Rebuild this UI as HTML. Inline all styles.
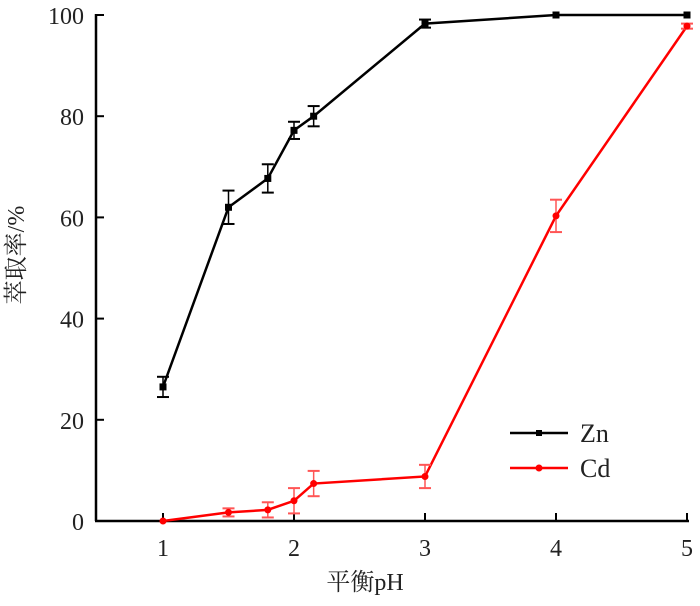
<!DOCTYPE html>
<html><head><meta charset="utf-8"><style>
html,body{margin:0;padding:0;background:#fff}
svg text{font-family:"Liberation Serif","Noto Serif CJK SC",serif}
</style></head><body>
<svg width="700" height="601" viewBox="0 0 700 601">
<g id="axes"></g>
<g id="series"></g>
<text x="365" y="590" font-size="24" text-anchor="middle" fill="#222">平衡pH</text>
<text transform="translate(24,255) rotate(-90)" font-size="24" text-anchor="middle" fill="#222">萃取率/%</text>
<g>
<g>
<line x1="510" y1="433" x2="568" y2="433" stroke="#000" stroke-width="2.5"/>
<rect x="536" y="430" width="6" height="6" fill="#000"/>
<text x="580" y="442" font-size="26" fill="#222">Zn</text>
</g>
<g>
<line x1="510" y1="468" x2="568" y2="468" stroke="#f00" stroke-width="2.5"/>
<circle cx="539" cy="468" r="3.5" fill="#f00"/>
<text x="580" y="477" font-size="26" fill="#222">Cd</text>
</g>
</g>
</svg>
<script>
const xTicks=[1,2,3,4,5];
const yTicks=[0,20,40,60,80,100];
const phZn=[1,1.5,1.8,2,2.15,3,4,5];
const zn=[26.5,62,67.7,77.2,80,98.3,100,100];
const znErr=[2,3.3,2.8,1.7,2,0.8,0,0];
const phCd=[1,1.5,1.8,2,2.15,3,4,5];
const cd=[0,1.7,2.2,4,7.4,8.8,60.3,97.8];
const cdErr=[0,0.8,1.5,2.5,2.5,2.3,3.2,0.5];
const NS="http://www.w3.org/2000/svg";
const X=v=>163+(v-1)*131;
const Y=v=>521-v*5.06;
function mk(t,a,p){const e=document.createElementNS(NS,t);for(const k in a)e.setAttribute(k,a[k]);p.appendChild(e);return e;}
const ax=document.getElementById('axes');
const l1=mk('line',{x1:96,y1:Y(0),x2:96,y2:14,stroke:'#000','stroke-width':2.5},ax);


const l2=mk('line',{x1:95,y1:Y(0),x2:689,y2:Y(0),stroke:'#000','stroke-width':2.5},ax);


xTicks.forEach(v=>{
 mk('line',{x1:X(v),y1:Y(0),x2:X(v),y2:Y(0)-8,stroke:'#000','stroke-width':2},ax);
 const t=mk('text',{x:X(v),y:556,'font-size':24,'text-anchor':'middle',fill:'#222'},ax);t.textContent=v;
 
 
});
yTicks.forEach(v=>{
 mk('line',{x1:96,y1:Y(v),x2:104,y2:Y(v),stroke:'#000','stroke-width':2},ax);
 const t=mk('text',{x:84,y:Y(v)+9,'font-size':24,'text-anchor':'end',fill:'#222'},ax);t.textContent=v;
 
 
});
const sg=document.getElementById('series');
function draw(xs,ys,es,color,name,sq){
 const g=mk('g',{},sg);
 
 
 mk('polyline',{points:xs.map((x,i)=>X(x)+','+Y(ys[i])).join(' '),fill:'none',stroke:color,'stroke-width':2.5},g);
 xs.forEach((x,i)=>{
  if(es[i]>0){
   const c=sq?'#000':'#f55';
   mk('line',{x1:X(x),y1:Y(ys[i]-es[i]),x2:X(x),y2:Y(ys[i]+es[i]),stroke:c,'stroke-width':1.5},g);
   mk('line',{x1:X(x)-6,y1:Y(ys[i]-es[i]),x2:X(x)+6,y2:Y(ys[i]-es[i]),stroke:c,'stroke-width':2},g);
   mk('line',{x1:X(x)-6,y1:Y(ys[i]+es[i]),x2:X(x)+6,y2:Y(ys[i]+es[i]),stroke:c,'stroke-width':2},g);
  }
  const m=sq?mk('rect',{x:X(x)-3.5,y:Y(ys[i])-3.5,width:7,height:7,fill:color},g):mk('circle',{cx:X(x),cy:Y(ys[i]),r:3.5,fill:color},g);
  
  
 });
}
draw(phZn,zn,znErr,'#000','zn',true);
draw(phCd,cd,cdErr,'#f00','cd',false);
</script>
</body></html>
